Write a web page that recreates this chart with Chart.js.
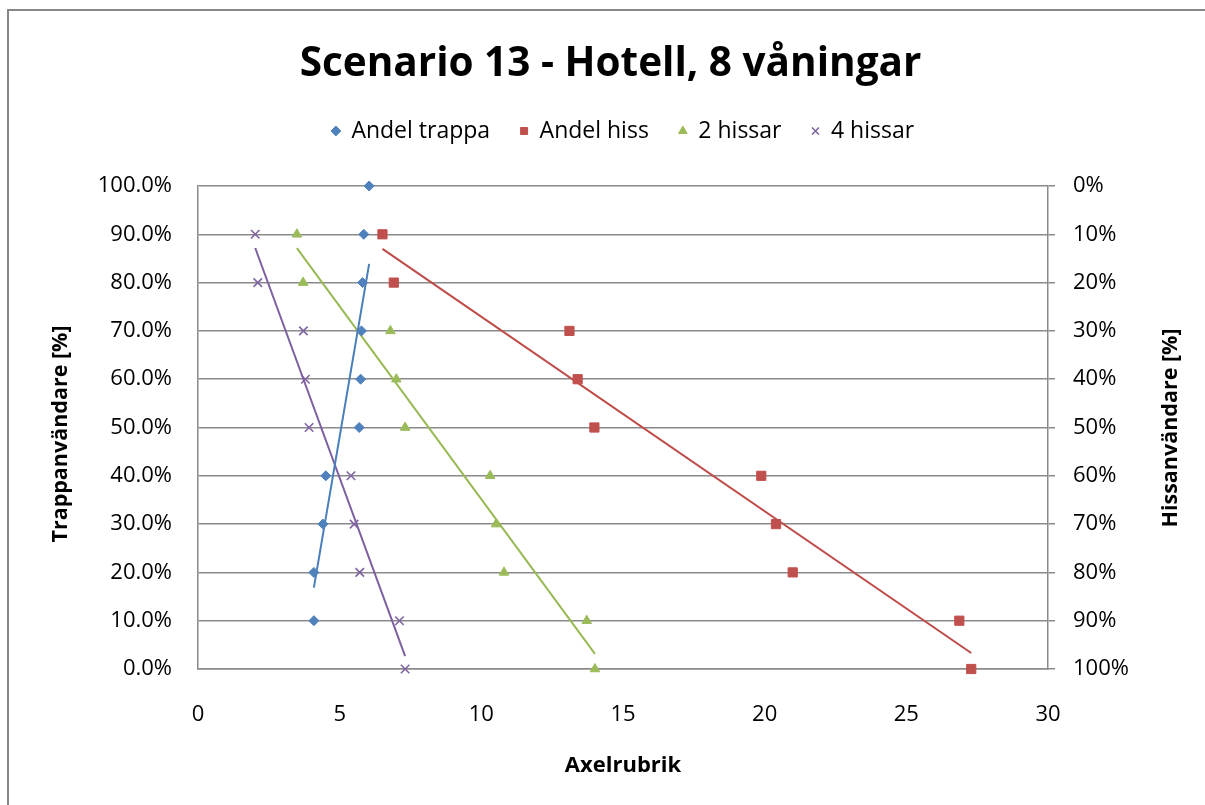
<!DOCTYPE html>
<html>
<head>
<meta charset="utf-8">
<title>Scenario 13 - Hotell, 8 våningar</title>
<script src="https://cdn.jsdelivr.net/npm/chart.js@4.4.1/dist/chart.umd.min.js"></script>
<style>
  html, body { margin: 0; padding: 0; background: #ffffff; }
  #wrap { width: 1205px; height: 805px; }
  canvas { display: block; }
</style>
</head>
<body>
<div id="wrap"><canvas id="chart" width="1205" height="805"></canvas></div>
<script>
// Share of stair users (left axis, %) and the matching x values
const trappaShare = [100, 90, 80, 70, 60, 50, 40, 30, 20, 10];
const trappaX     = [6.04, 5.85, 5.81, 5.77, 5.74, 5.69, 4.51, 4.41, 4.09, 4.09];

// Share of lift users (right axis, reversed, %)
const hissShare   = [10, 20, 30, 40, 50, 60, 70, 80, 90, 100];
const andelHissX  = [6.51, 6.91, 13.11, 13.40, 13.99, 19.88, 20.40, 20.99, 26.87, 27.29];
const tvaHissarX  = [3.49, 3.71, 6.79, 7.00, 7.31, 10.31, 10.52, 10.80, 13.72, 14.01];
const fyraHissarX = [2.02, 2.11, 3.72, 3.79, 3.92, 5.40, 5.51, 5.71, 7.11, 7.31];

const seriesNames = ['Andel trappa', 'Andel hiss', '2 hissar', '4 hissar'];
const xTickValues = [0, 5, 10, 15, 20, 25, 30];
const yTickValues = [0, 10, 20, 30, 40, 50, 60, 70, 80, 90, 100];

const FONT = "'Open Sans', 'Noto Sans', 'DejaVu Sans', sans-serif";
const AXIS = '#8a8a8a';

function points(xs, ys) {
  return xs.map((x, i) => ({ x: x, y: ys[i] }));
}

// Least-squares linear trend (y on x), spanning the x range of the series
function trend(xs, ys) {
  const n = xs.length;
  const mx = xs.reduce((a, b) => a + b, 0) / n;
  const my = ys.reduce((a, b) => a + b, 0) / n;
  let sxy = 0, sxx = 0;
  for (let i = 0; i < n; i++) {
    sxy += (xs[i] - mx) * (ys[i] - my);
    sxx += (xs[i] - mx) * (xs[i] - mx);
  }
  const b = sxy / sxx;
  const a = my - b * mx;
  const lo = Math.min(...xs), hi = Math.max(...xs);
  return [{ x: lo, y: a + b * lo }, { x: hi, y: a + b * hi }];
}

const colors = {
  blue:   '#4f81bd', blueLine:   '#4a7ebb',
  red:    '#c0504d', redLine:    '#be4b48',
  green:  '#9bbb59', greenLine:  '#98b954',
  purple: '#8064a2', purpleLine: '#7d60a0'
};

const markerSet = (label, data, axis, style, radius, color, bw) => ({
  label: label, data: data, yAxisID: axis, showLine: false, clip: false,
  pointStyle: style, pointRadius: radius, pointHoverRadius: radius,
  backgroundColor: color, borderColor: color, borderWidth: bw
});

const trendSet = (data, axis, color) => ({
  label: 'trend', data: data, yAxisID: axis, showLine: true, clip: false,
  pointRadius: 0, pointHoverRadius: 0, borderColor: color,
  backgroundColor: color, borderWidth: 2, fill: false
});

const datasets = [
  markerSet(seriesNames[0], points(trappaX, trappaShare), 'y',  'rectRot',  5,   colors.blue,   1),
  markerSet(seriesNames[1], points(andelHissX, hissShare), 'y2', 'rect',     6.5, colors.red,    1),
  markerSet(seriesNames[2], points(tvaHissarX, hissShare), 'y2', 'triangle', 5.5, colors.green,  1),
  markerSet(seriesNames[3], points(fyraHissarX, hissShare), 'y2', 'crossRot', 6,  colors.purple, 1.6),
  trendSet(trend(trappaX, trappaShare), 'y',  colors.blueLine),
  trendSet(trend(andelHissX, hissShare), 'y2', colors.redLine),
  trendSet(trend(tvaHissarX, hissShare), 'y2', colors.greenLine),
  trendSet(trend(fyraHissarX, hissShare), 'y2', colors.purpleLine)
];

// Outer frame of the chart object
const framePlugin = {
  id: 'frame',
  beforeDraw(chart) {
    const ctx = chart.ctx;
    ctx.save();
    ctx.fillStyle = '#ffffff';
    ctx.fillRect(0, 0, chart.width, chart.height);
    ctx.strokeStyle = '#878787';
    ctx.lineWidth = 2;
    ctx.strokeRect(8, 10, chart.width + 20, chart.height + 20);
    ctx.restore();
  }
};

// Vertical axis titles, both reading bottom to top
const sideTitlesPlugin = {
  id: 'sideTitles',
  afterDraw(chart) {
    const ctx = chart.ctx;
    const draw = (text, x, y) => {
      ctx.save();
      ctx.translate(x, y);
      ctx.rotate(-Math.PI / 2);
      ctx.font = "bold 21.5px " + FONT;
      ctx.fillStyle = '#000000';
      ctx.textAlign = 'center';
      ctx.textBaseline = 'middle';
      ctx.fillText(text, 0, 0);
      ctx.restore();
    };
    draw('Trappanvändare [%]', 61, 434);
    draw('Hissanvändare [%]', 1171, 428);
  }
};

Chart.defaults.font.family = FONT;
Chart.defaults.color = '#000000';

new Chart(document.getElementById('chart'), {
  type: 'scatter',
  data: { datasets: datasets },
  plugins: [framePlugin, sideTitlesPlugin],
  options: {
    responsive: false,
    animation: false,
    devicePixelRatio: 1,
    events: [],
    layout: { padding: { left: 16, right: 0, top: 0, bottom: 0 } },
    plugins: {
      tooltip: { enabled: false },
      title: {
        display: true,
        text: 'Scenario 13 - Hotell, 8 våningar',
        color: '#000000',
        font: { size: 40.5, weight: 'bold' },
        padding: { top: 40.5, bottom: 0.4 }
      },
      legend: {
        display: true,
        position: 'top',
        fullSize: false,
        weight: 1800,
        labels: {
          usePointStyle: true,
          boxWidth: 8,
          boxHeight: 7,
          padding: 30,
          color: '#000000',
          font: { size: 23 },
          filter: (item) => item.datasetIndex < 4
        }
      },
      // empty spacer between the legend and the plot area
      subtitle: {
        display: true,
        text: '',
        weight: 1500,
        font: { size: 1 },
        padding: { top: 32.3, bottom: 0 }
      }
    },
    scales: {
      x: {
        type: 'linear',
        position: 'bottom',
        min: 0, max: 30,
        afterBuildTicks: (s) => { s.ticks = xTickValues.map(v => ({ value: v })); },
        ticks: { padding: 33, font: { size: 22 }, color: '#000000' },
        grid: { display: false, drawTicks: false },
        border: { display: true, color: AXIS, width: 1.5 },
        title: {
          display: true, text: 'Axelrubrik', color: '#000000',
          font: { size: 22, weight: 'bold' },
          padding: { top: 0, bottom: 26 }
        },
        afterFit: (s) => { s.height = 136; }
      },
      y: {
        type: 'linear',
        position: 'left',
        min: 0, max: 100,
        afterBuildTicks: (s) => { s.ticks = yTickValues.map(v => ({ value: v })); },
        ticks: {
          padding: 26, font: { size: 22 }, color: '#000000',
          callback: (v) => Number(v).toFixed(1) + '%'
        },
        grid: { color: AXIS, lineWidth: 1.5, drawTicks: false },
        border: { display: true, color: AXIS, width: 1.5 },
        afterFit: (s) => { s.width = 182; }
      },
      y2: {
        type: 'linear',
        position: 'right',
        reverse: true,
        min: 0, max: 100,
        afterBuildTicks: (s) => { s.ticks = yTickValues.map(v => ({ value: v })); },
        ticks: {
          padding: 18, font: { size: 22 }, color: '#000000',
          callback: (v) => v + '%'
        },
        grid: { drawOnChartArea: false, drawTicks: true, tickLength: 7, color: AXIS, lineWidth: 1.5 },
        border: { display: true, color: AXIS, width: 1.5 },
        afterFit: (s) => { s.width = 157; }
      }
    }
  }
});
</script>
</body>
</html>
